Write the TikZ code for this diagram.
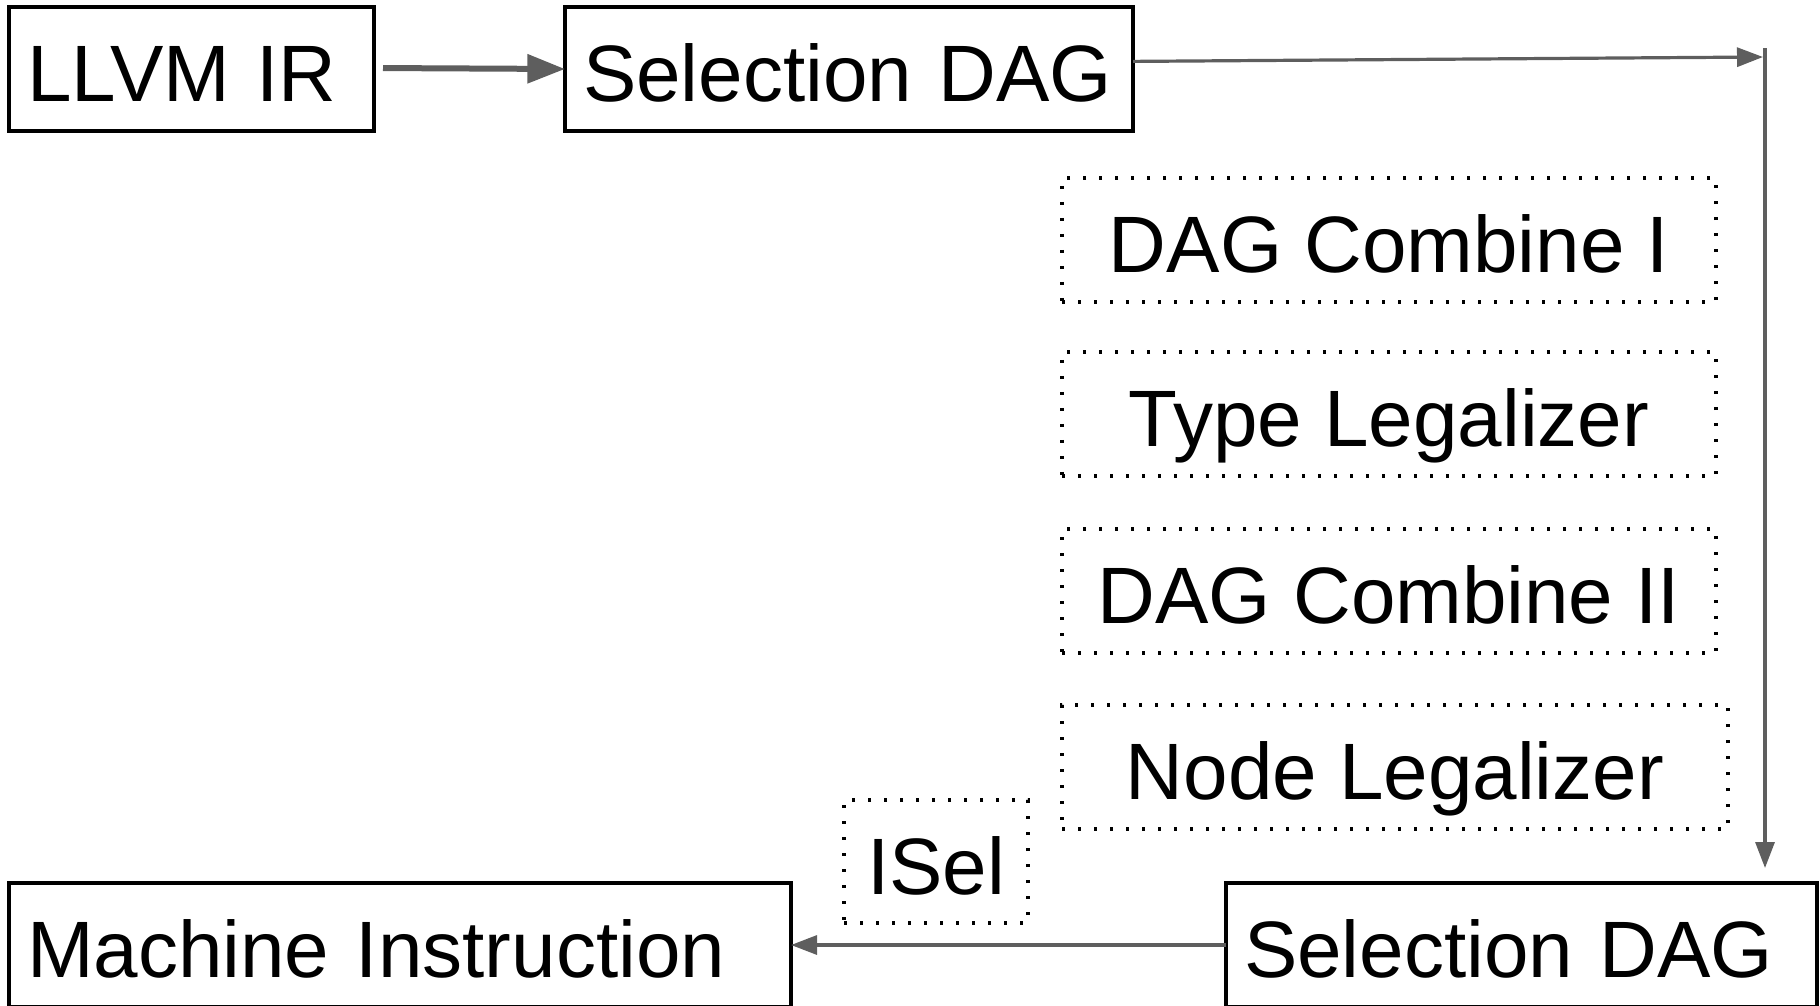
\documentclass[tikz,border=0pt]{standalone}
\usepackage{fontspec}
\setmainfont{Liberation Sans}
\usepackage{xcolor}
\usepackage{tikz}
\usetikzlibrary{arrows.meta, positioning, calc}
\definecolor{FlowGray}{HTML}{5E5E5E}

\tikzset{
  stage/.style={draw, line width=0.8pt, rectangle, anchor=north west, outer sep=0pt,
    minimum height=31pt, inner xsep=4.5pt, align=left,
    font=\fontsize{20}{24}\selectfont, text height=16.4pt, text depth=0pt},
  pass/.style={draw, line width=0.8pt, dash pattern=on 0.8pt off 3.2pt, rectangle,
    anchor=north west, outer sep=0pt, minimum height=31pt, align=center,
    font=\fontsize{20}{24}\selectfont, text height=16.4pt, text depth=0pt},
  flow/.style={draw=FlowGray, line width=0.8pt, -{Triangle[length=6.5pt, width=4.75pt]}},
  bigflow/.style={draw=FlowGray, line width=1.5pt, -{Triangle[length=9.4pt, width=7pt]}}
}

\begin{document}
\begin{tikzpicture}[x=0.25pt, y=-0.25pt]
  \useasboundingbox (0,0) rectangle (1820,1006);
  % Top row
  \node[stage, text width=82.25pt] (llvm) at (9,7) {LLVM IR};
  \node[stage, text width=133pt] (sel1) at (565,7) {Selection DAG};
  % Passes run on the DAG
  \node[pass, minimum width=163.5pt] (comb1) at (1062,178) {DAG Combine I};
  \node[pass, minimum width=163.5pt] (typeleg) at (1062,352) {Type Legalizer};
  \node[pass, minimum width=163.5pt] (comb2) at (1062,529) {DAG Combine II};
  \node[pass, minimum width=166.5pt] (nodeleg) at (1062,705) {Node Legalizer};
  \node[pass, minimum width=46pt, minimum height=30.75pt] (isel) at (844,800) {ISel};
  % Bottom row
  \node[stage, text width=186.5pt] (mi) at (9,883) {Machine Instruction};
  \node[stage, text width=138.75pt] (sel2) at (1226,883) {Selection DAG};
  % Corner of the long connector
  \coordinate (turn) at (1763,57);
  \coordinate (railtop) at (1765,48);
  \coordinate (railend) at (1765,868);
  % Connectors
  \draw[bigflow, shorten <=2.25pt] ([yshift=0.25pt]llvm.east) -- (sel1.west);
  \draw[flow] ([yshift=1.9pt]sel1.east) -- (turn);
  \draw[flow] (railtop) -- (railend);
  \draw[flow] (sel2.west) -- (mi.east);
\end{tikzpicture}
\end{document}
